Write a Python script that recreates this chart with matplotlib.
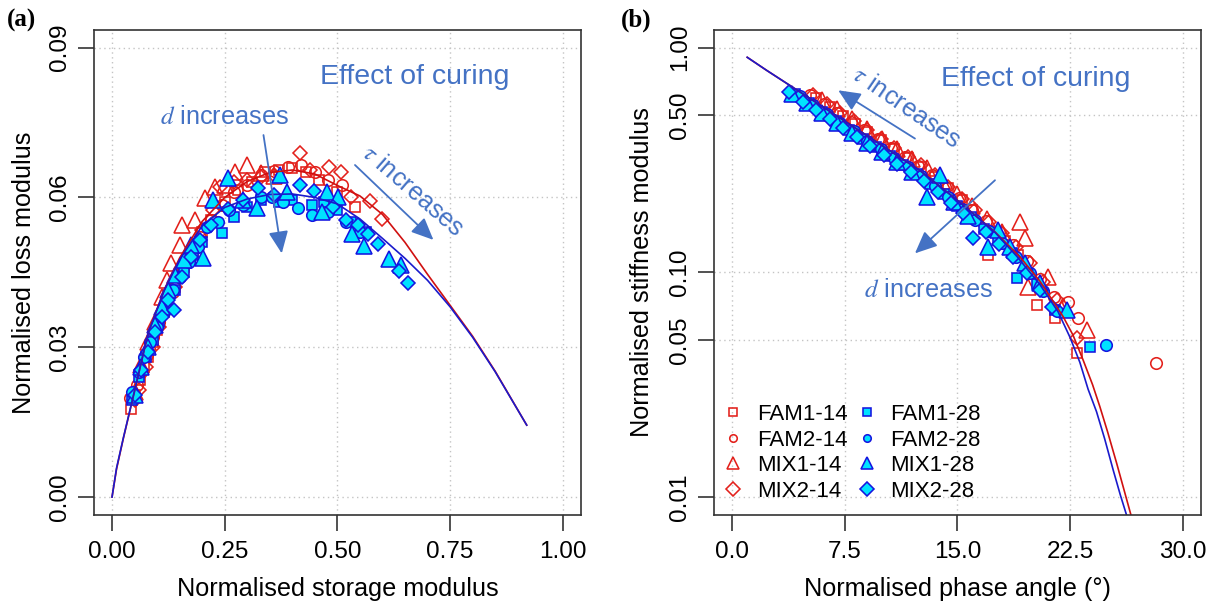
import matplotlib
matplotlib.use('Agg')
import matplotlib.pyplot as plt
from matplotlib.lines import Line2D
from matplotlib.ticker import NullLocator

# ---------------- data: panel (a) Cole-Cole ----------------
a_fam1_14_x = [0.042, 0.05, 0.062, 0.07, 0.08, 0.09, 0.10, 0.115, 0.125, 0.14, 0.16, 0.18, 0.20, 0.22, 0.25, 0.28, 0.31, 0.34, 0.37, 0.40, 0.43, 0.46, 0.50, 0.54]
a_fam1_14_y = [0.0177, 0.0205, 0.0235, 0.026, 0.028, 0.031, 0.0335, 0.037, 0.039, 0.042, 0.046, 0.049, 0.053, 0.0555, 0.059, 0.0615, 0.063, 0.065, 0.0655, 0.0658, 0.065, 0.0635, 0.061, 0.058]
a_fam2_14_x = [0.04, 0.055, 0.065, 0.078, 0.09, 0.105, 0.12, 0.135, 0.155, 0.175, 0.195, 0.22, 0.245, 0.27, 0.30, 0.33, 0.36, 0.39, 0.42, 0.45, 0.48, 0.51]
a_fam2_14_y = [0.0198, 0.0225, 0.025, 0.0285, 0.032, 0.035, 0.038, 0.041, 0.045, 0.0485, 0.052, 0.0555, 0.0585, 0.061, 0.0625, 0.0645, 0.0652, 0.0662, 0.0665, 0.065, 0.0635, 0.0625]
a_mix1_14_x = [0.05, 0.065, 0.08, 0.095, 0.11, 0.121, 0.13, 0.15, 0.155, 0.184, 0.206, 0.228, 0.25, 0.273, 0.299, 0.33, 0.36]
a_mix1_14_y = [0.021, 0.0265, 0.031, 0.035, 0.040, 0.0435, 0.0468, 0.0505, 0.0545, 0.0555, 0.0598, 0.0621, 0.0625, 0.0651, 0.0665, 0.0648, 0.0642]
a_mix2_14_x = [0.05, 0.06, 0.075, 0.09, 0.105, 0.12, 0.14, 0.16, 0.18, 0.20, 0.225, 0.24, 0.27, 0.30, 0.33, 0.36, 0.417, 0.44, 0.481, 0.507, 0.53, 0.572, 0.598]
a_mix2_14_y = [0.0195, 0.0215, 0.026, 0.030, 0.034, 0.0375, 0.042, 0.0465, 0.050, 0.0535, 0.0575, 0.062, 0.063, 0.0635, 0.064, 0.0645, 0.0689, 0.0655, 0.0662, 0.065, 0.060, 0.0592, 0.0557]

a_fam1_28_x = [0.045, 0.06, 0.075, 0.09, 0.105, 0.12, 0.14, 0.16, 0.18, 0.20, 0.243, 0.27, 0.30, 0.33, 0.37, 0.40, 0.443, 0.47, 0.50, 0.53, 0.563]
a_fam1_28_y = [0.0195, 0.024, 0.028, 0.0315, 0.035, 0.038, 0.0415, 0.045, 0.0485, 0.051, 0.0528, 0.056, 0.058, 0.0595, 0.059, 0.0595, 0.0585, 0.059, 0.0575, 0.055, 0.053]
a_fam2_28_x = [0.045, 0.06, 0.07, 0.085, 0.10, 0.115, 0.135, 0.15, 0.17, 0.19, 0.211, 0.235, 0.26, 0.29, 0.33, 0.354, 0.38, 0.413, 0.443, 0.48, 0.52, 0.55]
a_fam2_28_y = [0.021, 0.025, 0.028, 0.031, 0.034, 0.037, 0.0415, 0.044, 0.047, 0.050, 0.054, 0.055, 0.0575, 0.0585, 0.060, 0.0601, 0.059, 0.0578, 0.0565, 0.057, 0.055, 0.053]
a_mix1_28_x = [0.05, 0.065, 0.08, 0.095, 0.11, 0.125, 0.14, 0.16, 0.175, 0.202, 0.225, 0.258, 0.29, 0.321, 0.373, 0.388, 0.465, 0.476, 0.502, 0.533, 0.559, 0.615, 0.64]
a_mix1_28_y = [0.0205, 0.026, 0.030, 0.0345, 0.038, 0.0415, 0.0445, 0.0475, 0.0505, 0.0478, 0.0595, 0.0638, 0.0595, 0.0578, 0.0645, 0.0611, 0.0571, 0.0611, 0.0601, 0.0526, 0.0503, 0.0476, 0.0464]
a_mix2_28_x = [0.05, 0.065, 0.08, 0.095, 0.11, 0.125, 0.138, 0.155, 0.175, 0.195, 0.22, 0.258, 0.29, 0.323, 0.36, 0.417, 0.447, 0.49, 0.52, 0.545, 0.567, 0.589, 0.636, 0.657]
a_mix2_28_y = [0.0205, 0.0255, 0.029, 0.033, 0.036, 0.0395, 0.0375, 0.044, 0.048, 0.0515, 0.0545, 0.0577, 0.0595, 0.0619, 0.0605, 0.0625, 0.0612, 0.058, 0.0555, 0.0545, 0.0526, 0.0507, 0.0452, 0.0429]

a_fit14_x = [0, 0.01, 0.025, 0.05, 0.08, 0.115, 0.15, 0.2, 0.25, 0.3, 0.35, 0.4, 0.45, 0.5, 0.55, 0.6, 0.65, 0.7, 0.75, 0.8, 0.85, 0.92]
a_fit14_y = [0, 0.0056, 0.0117, 0.0212, 0.0328, 0.0413, 0.0479, 0.0552, 0.0600, 0.0632, 0.0650, 0.0655, 0.0647, 0.0624, 0.0603, 0.0566, 0.0510, 0.0446, 0.0384, 0.0322, 0.0252, 0.0144]
a_fit28_x = [0, 0.01, 0.025, 0.05, 0.08, 0.115, 0.15, 0.2, 0.25, 0.3, 0.35, 0.4, 0.45, 0.5, 0.55, 0.6, 0.65, 0.7, 0.75, 0.8, 0.85, 0.92]
a_fit28_y = [0, 0.0058, 0.0118, 0.0213, 0.0328, 0.0412, 0.0476, 0.0543, 0.0580, 0.0597, 0.0606, 0.0607, 0.0600, 0.0587, 0.0557, 0.0518, 0.0478, 0.0434, 0.0381, 0.0320, 0.0251, 0.0144]

# ---------------- data: panel (b) Black space ----------------
b_fam1_14_x = [5.6, 6.5, 7.4, 8.2, 9.0, 9.9, 10.8, 11.7, 12.6, 13.5, 14.4, 15.3, 16.0, 17.05, 18.2, 19.0, 20.27, 21.5, 22.93]
b_fam1_14_y = [0.597, 0.546, 0.498, 0.459, 0.422, 0.387, 0.354, 0.324, 0.295, 0.266, 0.237, 0.209, 0.190, 0.119, 0.138, 0.120, 0.0716, 0.0625, 0.0436]
b_fam2_14_x = [5.2, 6.1, 7.0, 7.9, 8.8, 9.7, 10.6, 11.5, 12.4, 13.3, 14.2, 15.1, 16.0, 16.9, 17.8, 18.7, 19.6, 20.5, 21.4, 22.37, 23.04, 28.2]
b_fam2_14_y = [0.614, 0.561, 0.513, 0.468, 0.428, 0.391, 0.356, 0.326, 0.298, 0.271, 0.241, 0.214, 0.190, 0.170, 0.151, 0.132, 0.112, 0.093, 0.078, 0.074, 0.0625, 0.0394]
b_mix1_14_x = [6.0, 7.0, 8.0, 9.0, 10.0, 11.0, 12.0, 13.0, 14.0, 15.0, 16.0, 17.0, 18.0, 19.16, 19.5, 19.72, 21.05, 22.0, 23.64]
b_mix1_14_y = [0.586, 0.531, 0.480, 0.434, 0.393, 0.355, 0.321, 0.290, 0.256, 0.224, 0.197, 0.173, 0.151, 0.168, 0.142, 0.0864, 0.0956, 0.0708, 0.0554]
b_mix2_14_x = [5.4, 6.3, 7.2, 8.1, 9.0, 9.9, 10.8, 11.7, 12.6, 13.5, 14.4, 15.3, 16.2, 17.1, 18.0, 18.9, 19.8, 20.7, 21.6, 22.93]
b_mix2_14_y = [0.617, 0.564, 0.514, 0.470, 0.429, 0.392, 0.358, 0.327, 0.299, 0.270, 0.240, 0.213, 0.190, 0.168, 0.150, 0.130, 0.110, 0.091, 0.075, 0.0509]

b_fam1_28_x = [4.2, 5.1, 6.0, 6.9, 7.8, 8.7, 9.6, 10.5, 11.4, 12.3, 13.2, 14.1, 15.0, 15.9, 16.8, 17.7, 18.6, 18.94, 20.3, 21.49, 23.86]
b_fam1_28_y = [0.619, 0.566, 0.516, 0.472, 0.432, 0.394, 0.360, 0.329, 0.301, 0.274, 0.248, 0.223, 0.198, 0.176, 0.156, 0.139, 0.122, 0.094, 0.0885, 0.068, 0.0467]
b_fam2_28_x = [4.5, 5.4, 6.3, 7.2, 8.1, 9.0, 9.9, 10.8, 11.7, 12.6, 13.5, 14.4, 15.3, 16.2, 17.1, 18.0, 18.9, 19.8, 20.7, 21.6, 24.86]
b_fam2_28_y = [0.608, 0.556, 0.508, 0.464, 0.424, 0.386, 0.353, 0.323, 0.294, 0.269, 0.243, 0.216, 0.192, 0.171, 0.152, 0.135, 0.117, 0.0989, 0.0824, 0.0676, 0.0475]
b_mix1_28_x = [4.0, 5.0, 6.0, 7.0, 8.0, 9.0, 10.0, 11.0, 12.0, 12.95, 13.84, 14.8, 15.7, 17.05, 17.72, 18.5, 19.5, 20.5, 22.27]
b_mix1_28_y = [0.625, 0.565, 0.511, 0.462, 0.418, 0.378, 0.342, 0.309, 0.279, 0.217, 0.271, 0.206, 0.178, 0.130, 0.154, 0.130, 0.110, 0.090, 0.068]
b_mix2_28_x = [3.81, 4.7, 5.6, 6.5, 7.4, 8.3, 9.2, 10.1, 11.0, 11.9, 12.8, 13.7, 14.6, 15.4, 16.06, 16.9, 17.8, 18.7, 19.6, 20.5, 21.3]
b_mix2_28_y = [0.634, 0.575, 0.526, 0.481, 0.439, 0.401, 0.366, 0.334, 0.305, 0.279, 0.254, 0.229, 0.204, 0.183, 0.1416, 0.151, 0.134, 0.117, 0.0993, 0.0832, 0.070]

b_fit14_x = [1.0, 2.3, 5, 7.5, 10, 12.5, 15, 17.5, 19.16, 20.5, 22.04, 22.7, 23.37, 24.0, 24.48, 25.0, 25.6, 26.1, 26.55, 26.7]
b_fit14_y = [0.906, 0.792, 0.605, 0.471, 0.366, 0.284, 0.2094, 0.1514, 0.1172, 0.0912, 0.0635, 0.0525, 0.0407, 0.0316, 0.0253, 0.0195, 0.01416, 0.01072, 0.00834, 0.00767]
b_fit28_x = [1.0, 2.3, 5, 7.5, 10, 12.5, 15, 17.5, 19.0, 20.5, 21.7, 22.5, 23.15, 23.7, 24.26, 24.8, 25.37, 25.85, 26.26, 26.4]
b_fit28_y = [0.906, 0.792, 0.605, 0.471, 0.366, 0.284, 0.2089, 0.1507, 0.1169, 0.0881, 0.0668, 0.0513, 0.0398, 0.0302, 0.0240, 0.0182, 0.0132, 0.0102, 0.00832, 0.00759]

series_names = ['FAM1-14', 'FAM2-14', 'MIX1-14', 'MIX2-14', 'FAM1-28', 'FAM2-28', 'MIX1-28', 'MIX2-28']
a_data = [(a_fam1_14_x, a_fam1_14_y), (a_fam2_14_x, a_fam2_14_y), (a_mix1_14_x, a_mix1_14_y), (a_mix2_14_x, a_mix2_14_y),
          (a_fam1_28_x, a_fam1_28_y), (a_fam2_28_x, a_fam2_28_y), (a_mix1_28_x, a_mix1_28_y), (a_mix2_28_x, a_mix2_28_y)]
b_data = [(b_fam1_14_x, b_fam1_14_y), (b_fam2_14_x, b_fam2_14_y), (b_mix1_14_x, b_mix1_14_y), (b_mix2_14_x, b_mix2_14_y),
          (b_fam1_28_x, b_fam1_28_y), (b_fam2_28_x, b_fam2_28_y), (b_mix1_28_x, b_mix1_28_y), (b_mix2_28_x, b_mix2_28_y)]

a_xticks = [0.0, 0.25, 0.5, 0.75, 1.0]
a_xticklabels = ['0.00', '0.25', '0.50', '0.75', '1.00']
a_yticks = [0.0, 0.03, 0.06, 0.09]
a_yticklabels = ['0.00', '0.03', '0.06', '0.09']
b_xticks = [0.0, 7.5, 15.0, 22.5, 30.0]
b_xticklabels = ['0.0', '7.5', '15.0', '22.5', '30.0']
b_yticks = [0.01, 0.05, 0.10, 0.50, 1.00]
b_yticklabels = ['0.01', '0.05', '0.10', '0.50', '1.00']

# ---------------- styles ----------------
RED = '#E3201B'
RED_LINE = '#D01010'
BLUE_EDGE = '#1515E0'
BLUE_LINE = '#1a1acc'
CYAN = '#00E2FF'
ANN = '#4472C4'
markers = {'FAM1': 's', 'FAM2': 'o', 'MIX1': '^', 'MIX2': 'D'}
msizes = {'FAM1': 7.8, 'FAM2': 8.3, 'MIX1': 12.0, 'MIX2': 7.6}
leg_sizes = {'FAM1': 5.2, 'FAM2': 5.4, 'MIX1': 9.0, 'MIX2': 7.0}

plt.rcParams['font.family'] = ['Liberation Sans', 'DejaVu Sans']
plt.rcParams['mathtext.fontset'] = 'stix'

fig = plt.figure(figsize=(12.19, 6.05), dpi=100)
W, H = 1219.0, 605.0
axA = fig.add_axes([94 / W, 1 - 515 / H, 486.8 / W, 485.3 / H])
axB = fig.add_axes([714.2 / W, 1 - 515 / H, 486.5 / W, 485.3 / H])


def style(name):
    key = name[:4]
    is28 = name.endswith('28')
    return dict(marker=markers[key], linestyle='None', markersize=msizes[key],
                markerfacecolor=CYAN if is28 else 'none',
                markeredgecolor=BLUE_EDGE if is28 else RED,
                markeredgewidth=1.15)


for ax, data in ((axA, a_data), (axB, b_data)):
    for name, (xs, ys) in zip(series_names, data):
        ax.plot(xs, ys, **style(name))

axA.plot(a_fit14_x, a_fit14_y, color=RED_LINE, lw=1.2)
axA.plot(a_fit28_x, a_fit28_y, color=BLUE_LINE, lw=1.2)
axB.plot(b_fit14_x, b_fit14_y, color=RED_LINE, lw=1.2)
axB.plot(b_fit28_x, b_fit28_y, color=BLUE_LINE, lw=1.2)

axA.set_xlim(-0.04, 1.04)
axA.set_ylim(-0.0036, 0.0936)
axB.set_xlim(-1.2, 31.2)
axB.set_yscale('log')
axB.set_ylim(10 ** -2.08, 10 ** 0.08)
axB.yaxis.set_minor_locator(NullLocator())

axA.set_xticks(a_xticks, a_xticklabels)
axA.set_yticks(a_yticks, a_yticklabels)
axB.set_xticks(b_xticks, b_xticklabels)
axB.set_yticks(b_yticks, b_yticklabels)

for ax in (axA, axB):
    ax.set_axisbelow(True)
    ax.grid(True, linestyle=(0, (1, 2.5)), color='#C4C4C4', lw=1.0)
    for sp in ax.spines.values():
        sp.set_color('#333333')
        sp.set_linewidth(1.2)
    ax.tick_params(axis='both', direction='out', length=11.5, width=1.2, color='#333333',
                   labelsize=17.5, labelcolor='black')
    ax.tick_params(axis='x', pad=7.5)
    ax.tick_params(axis='y', pad=5.0, labelrotation=90)
    for lab in ax.get_yticklabels():
        lab.set_va('center')

axA.set_xlabel('Normalised storage modulus', fontsize=18.2)
axA.set_ylabel('Normalised loss modulus', fontsize=18.2)
axB.set_xlabel('Normalised phase angle (°)', fontsize=18.2)
axB.set_ylabel('Normalised stiffness modulus', fontsize=18.2)
for ax in (axA, axB):
    ax.xaxis.set_label_coords(0.5, -0.1525)
    ax.xaxis.label.set_va('center')
    ax.yaxis.label.set_va('center')
axA.yaxis.set_label_coords(-0.144, 0.5)
axB.yaxis.set_label_coords(-0.1484, 0.5)

fig.text(21 / W, 1 - 20 / H, '(a)', family='Liberation Serif', weight='bold', fontsize=18, ha='center', va='center')
fig.text(636 / W, 1 - 20 / H, '(b)', family='Liberation Serif', weight='bold', fontsize=18, ha='center', va='center')

# annotations panel (a)
axA.text(0.671, 0.0841, 'Effect of curing', color=ANN, fontsize=20.5, ha='center', va='center')
axA.text(0.2485, 0.0761, '$d$ increases', color=ANN, fontsize=18.2, ha='center', va='center')
axA.text(0.668, 0.0613, r'$\tau$ increases', color=ANN, fontsize=18.2, ha='center', va='center',
         rotation=-41, rotation_mode='anchor')
aprops = dict(arrowstyle='-|>,head_length=0.9,head_width=0.4', mutation_scale=15, lw=1.3,
              color=ANN, shrinkA=0, shrinkB=0)
axA.annotate('', xy=(0.713, 0.0515), xytext=(0.539, 0.0665), arrowprops=aprops)
axA.annotate('', xy=(0.3765, 0.0488), xytext=(0.336, 0.0725), arrowprops=aprops)

# annotations panel (b)
axB.text(20.23, 0.723, 'Effect of curing', color=ANN, fontsize=20.5, ha='center', va='center')
axB.text(13.04, 0.0834, '$d$ increases', color=ANN, fontsize=18.2, ha='center', va='center')
axB.text(11.62, 0.54, r'$\tau$ increases', color=ANN, fontsize=18.2, ha='center', va='center',
         rotation=-34.5, rotation_mode='anchor')
axB.annotate('', xy=(7.06, 0.646), xytext=(12.17, 0.394), arrowprops=aprops)
axB.annotate('', xy=(12.17, 0.1215), xytext=(17.5, 0.257), arrowprops=aprops)

# legend
handles = []
for name in series_names:
    st = style(name)
    st['markersize'] = leg_sizes[name[:4]]
    handles.append(Line2D([], [], **st))
axB.legend(handles, series_names, ncol=2, loc='lower left', bbox_to_anchor=(0.0187, 0.027),
           frameon=False, fontsize=16, handlelength=0.9, handletextpad=0.6,
           columnspacing=0.45, labelspacing=0.21, borderaxespad=0, borderpad=0)

fig.savefig('out.png', dpi=100)
